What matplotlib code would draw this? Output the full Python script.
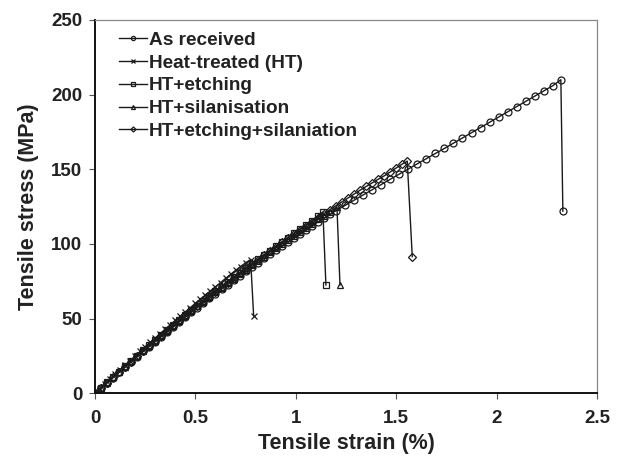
import matplotlib
matplotlib.use("Agg")
import matplotlib.pyplot as plt

plt.rcParams['font.family'] = ['Liberation Sans', 'DejaVu Sans']
plt.rcParams['font.weight'] = 'bold'

# As received
ar_strain = [0, 0.03, 0.06, 0.09, 0.12, 0.15, 0.18, 0.21, 0.24, 0.27, 0.30, 0.33, 0.36,
             0.39, 0.42, 0.45, 0.48, 0.51, 0.54, 0.57, 0.60, 0.63, 0.66, 0.69, 0.72,
             0.75, 0.78, 0.81, 0.84, 0.87, 0.90, 0.93, 0.96, 0.99, 1.02, 1.05, 1.08,
             1.11, 1.14, 1.17, 1.20, 1.245, 1.29, 1.335, 1.38, 1.425, 1.47, 1.515,
             1.56, 1.605, 1.65, 1.695, 1.74, 1.785, 1.83, 1.875, 1.92, 1.965, 2.01,
             2.055, 2.10, 2.145, 2.19, 2.235, 2.28, 2.32, 2.33]
ar_stress = [0, 3.5, 7.0, 10.5, 14.0, 17.5, 21.0, 24.5, 28.0, 31.3, 34.6, 37.9, 41.2,
             44.5, 47.8, 51.0, 54.2, 57.4, 60.5, 63.6, 66.7, 69.7, 72.7, 75.7, 78.7,
             81.6, 84.5, 87.4, 90.3, 93.1, 95.9, 98.7, 101.4, 104.1, 106.8, 109.5, 112.1,
             114.7, 117.3, 119.8, 122.3, 125.8, 129.3, 132.8, 136.3, 139.8, 143.3, 146.8,
             150.2, 153.7, 157.1, 160.6, 164.0, 167.5, 171.0, 174.5, 178.0, 181.5, 185.0,
             188.5, 192.0, 195.5, 199.0, 202.5, 206.0, 210.0, 122.0]

# Heat-treated (HT)
ht_strain = [0, 0.025, 0.05, 0.075, 0.10, 0.125, 0.15, 0.175, 0.20, 0.225, 0.25, 0.275,
             0.30, 0.325, 0.35, 0.375, 0.40, 0.425, 0.45, 0.475, 0.50, 0.525, 0.55,
             0.575, 0.60, 0.625, 0.65, 0.675, 0.70, 0.725, 0.75, 0.775, 0.79]
ht_stress = [0, 3.2, 6.4, 9.5, 12.6, 15.8, 18.9, 21.9, 25.0, 28.0, 31.1, 34.1,
             37.1, 40.0, 43.0, 45.9, 48.8, 51.7, 54.6, 57.4, 60.3, 63.1, 65.9,
             68.6, 71.4, 74.1, 76.9, 79.6, 82.3, 84.9, 87.4, 89.5, 52.0]

# HT+etching
et_strain = [0, 0.03, 0.06, 0.09, 0.12, 0.15, 0.18, 0.21, 0.24, 0.27, 0.30, 0.33, 0.36,
             0.39, 0.42, 0.45, 0.48, 0.51, 0.54, 0.57, 0.60, 0.63, 0.66, 0.69, 0.72,
             0.75, 0.78, 0.81, 0.84, 0.87, 0.90, 0.93, 0.96, 0.99, 1.02, 1.05, 1.08,
             1.11, 1.135, 1.15]
et_stress = [0, 3.7, 7.3, 10.9, 14.5, 18.1, 21.7, 25.2, 28.7, 32.1, 35.5, 38.9, 42.3,
             45.6, 48.9, 52.2, 55.5, 58.7, 61.9, 65.1, 68.3, 71.4, 74.5, 77.6, 80.7,
             83.7, 86.7, 89.7, 92.7, 95.6, 98.5, 101.4, 104.3, 107.2, 110.0, 112.8, 115.6,
             118.6, 121.5, 72.5]

# HT+silanisation
si_strain = [0, 0.03, 0.06, 0.09, 0.12, 0.15, 0.18, 0.21, 0.24, 0.27, 0.30, 0.33, 0.36,
             0.39, 0.42, 0.45, 0.48, 0.51, 0.54, 0.57, 0.60, 0.63, 0.66, 0.69, 0.72,
             0.75, 0.78, 0.81, 0.84, 0.87, 0.90, 0.93, 0.96, 0.99, 1.02, 1.05, 1.08,
             1.11, 1.14, 1.17, 1.205, 1.22]
si_stress = [0, 3.6, 7.2, 10.7, 14.3, 17.8, 21.4, 24.9, 28.4, 31.8, 35.2, 38.5, 41.9,
             45.2, 48.5, 51.8, 55.0, 58.2, 61.4, 64.5, 67.6, 70.7, 73.8, 76.8, 79.8,
             82.8, 85.7, 88.6, 91.5, 94.4, 97.2, 100.0, 102.8, 105.6, 108.3, 111.0, 113.7,
             116.4, 119.0, 121.7, 124.5, 72.5]

# HT+etching+silaniation
es_strain = [0, 0.03, 0.06, 0.09, 0.12, 0.15, 0.18, 0.21, 0.24, 0.27, 0.30, 0.33, 0.36,
             0.39, 0.42, 0.45, 0.48, 0.51, 0.54, 0.57, 0.60, 0.63, 0.66, 0.69, 0.72,
             0.75, 0.78, 0.81, 0.84, 0.87, 0.90, 0.93, 0.96, 0.99, 1.02, 1.05, 1.08,
             1.11, 1.14, 1.17, 1.20, 1.23, 1.26, 1.29, 1.32, 1.35, 1.38, 1.41, 1.44,
             1.47, 1.50, 1.53, 1.555, 1.58]
es_stress = [0, 3.6, 7.1, 10.6, 14.1, 17.7, 21.2, 24.7, 28.2, 31.6, 35.0, 38.4, 41.8,
             45.2, 48.5, 51.8, 55.1, 58.4, 61.6, 64.8, 68.0, 71.1, 74.2, 77.3, 80.4,
             83.4, 86.4, 89.4, 92.4, 95.3, 98.2, 101.1, 103.9, 106.7, 109.5, 112.2, 114.9,
             117.6, 120.3, 123.0, 125.6, 128.2, 130.8, 133.4, 136.0, 138.5, 140.9, 143.3, 145.6,
             148.2, 150.9, 153.5, 155.5, 91.5]

labels = ['As received', 'Heat-treated (HT)', 'HT+etching', 'HT+silanisation',
          'HT+etching+silaniation']
x_ticks = [0, 0.5, 1, 1.5, 2, 2.5]
x_tick_labels = ['0', '0.5', '1', '1.5', '2', '2.5']
y_ticks = [0, 50, 100, 150, 200, 250]

fig = plt.figure(figsize=(6.2, 4.59), dpi=100)
ax = fig.add_axes([95/620, 1 - 393.3/459, (597-95)/620, (393.3-20)/459])

series = [
    (ar_strain, ar_stress, 'o'),
    (ht_strain, ht_stress, 'x'),
    (et_strain, et_stress, 's'),
    (si_strain, si_stress, '^'),
    (es_strain, es_stress, 'D'),
]
sizes = {'o': 5.0, 'x': 5, 's': 4.6, '^': 4.8, 'D': 4.3}
handles = []
for (xs, ys, m), lab in zip(series, labels):
    h, = ax.plot(xs, ys, color='#1a1a1a', lw=1.0, marker=m, ms=sizes[m],
                 mfc='none', mec='#1a1a1a', mew=0.9, label=lab)
    handles.append(h)

ax.set_xlim(0, 2.5)
ax.set_ylim(0, 250)
ax.set_xticks(x_ticks)
ax.set_xticklabels(x_tick_labels)
ax.set_yticks(y_ticks)
ax.tick_params(axis='both', direction='out', length=4, width=0.8, color='#555555',
               labelsize=13.5)
ax.tick_params(axis='x', pad=8)
ax.tick_params(axis='y', pad=5)
for lab in ax.get_xticklabels() + ax.get_yticklabels():
    lab.set_fontweight('bold')
    lab.set_color('#222222')

ax.spines['left'].set_linewidth(1.4)
ax.spines['bottom'].set_linewidth(1.4)
ax.spines['left'].set_color('#111111')
ax.spines['bottom'].set_color('#111111')
ax.spines['top'].set_color('#888888')
ax.spines['right'].set_color('#888888')
ax.spines['top'].set_linewidth(0.9)
ax.spines['right'].set_linewidth(0.9)

ax.set_xlabel('Tensile strain (%)', fontsize=15.5, fontweight='bold', color='#222222', labelpad=4)
ax.set_ylabel('Tensile stress (MPa)', fontsize=15.5, fontweight='bold', color='#222222', labelpad=9)

leg = ax.legend(handles=handles, loc='upper left', frameon=False, fontsize=13.7,
                handlelength=1.45, handletextpad=0.12, labelspacing=0.29,
                borderaxespad=0.0, bbox_to_anchor=(0.033, 0.99), markerscale=0.6)
for t in leg.get_texts():
    t.set_fontweight('bold')
    t.set_color('#222222')

fig.savefig('out.png', dpi=100)
